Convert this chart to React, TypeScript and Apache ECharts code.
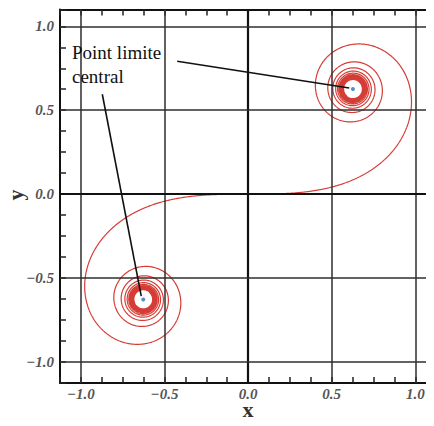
import React, { useEffect, useRef } from "react";
import * as echarts from "echarts";

// Clothoid (Cornu spiral): x(t) = ∫0^t cos(s²) ds, y(t) = ∫0^t sin(s²) ds
const T_RANGE = [-9, 9];
const T_STEP = 0.0025;

// Axis ticks shown with labels
const MAJOR_TICKS = [-1.0, -0.5, 0.0, 0.5, 1.0];
const AXIS_MIN = -1.125;
const AXIS_MAX = 1.1;

// Central limit points of the spiral
const LIMIT_POINTS = [
  [0.627, 0.627],
  [-0.627, -0.627],
];

// Annotation leader lines: [start, end]
const LEADER_LINES = [
  [[-0.424, 0.792], [0.605, 0.632]],
  [[-0.872, 0.595], [-0.639, -0.607]],
];
const ANNOTATION_TEXT = "Point limite\ncentral";
const X_NAME = "x";
const Y_NAME = "y";

function clothoid(): number[][] {
  const half: number[][] = [];
  let x = 0;
  let y = 0;
  half.push([0, 0]);
  const n = Math.round(T_RANGE[1] / T_STEP);
  for (let i = 0; i < n; i++) {
    const s = (i + 0.5) * T_STEP;
    x += Math.cos(s * s) * T_STEP;
    y += Math.sin(s * s) * T_STEP;
    half.push([x, y]);
  }
  const neg = half
    .slice(1)
    .reverse()
    .map(([a, b]) => [-a, -b]);
  return neg.concat(half);
}

const labelFmt = (v: number) =>
  Math.abs(v * 2 - Math.round(v * 2)) < 1e-6 && v >= -1.0001 && v <= 1.0001
    ? v.toFixed(1).replace("-", "\u2212")
    : "";

const SERIF = '"Liberation Serif", "DejaVu Serif", serif';

export default function App() {
  const ref = useRef<HTMLDivElement>(null);

  useEffect(() => {
    if (!ref.current) return;
    const chart = echarts.init(ref.current, undefined, { renderer: "svg" });

    const frameLine = { show: true, onZero: false, lineStyle: { color: "#111", width: 2 } };
    const tick = { show: true, inside: true, length: 6, lineStyle: { color: "#222", width: 1.5 } };
    const label = {
      formatter: labelFmt,
      fontStyle: "italic" as const,
      fontWeight: "bold" as const,
      color: "#555",
      fontFamily: SERIF,
      fontSize: 15,
    };
    const base = {
      type: "value" as const,
      min: AXIS_MIN,
      max: AXIS_MAX,
      interval: 0.125,
      splitLine: { show: false },
      axisLine: frameLine,
      axisTick: tick,
    };

    const gridLine = (axis: "xAxis" | "yAxis") =>
      MAJOR_TICKS.map((v) => ({
        [axis]: v,
        lineStyle: {
          type: "solid",
          color: v === 0 ? "#111" : "#2e2e2e",
          width: v === 0 ? 2.2 : 1.5,
        },
      }));

    const nameFont = `bold 22px ${SERIF}`;

    chart.setOption({
      animation: false,
      grid: { left: 60, right: 2, top: 9.5, bottom: 43, outerBoundsMode: "none" },
      xAxis: [
        { ...base, position: "bottom", axisLabel: { ...label, margin: 3 } },
        { ...base, position: "top", axisLabel: { show: false } },
      ],
      yAxis: [
        { ...base, position: "left", axisLabel: { ...label, margin: 6 } },
        { ...base, position: "right", axisLabel: { show: false } },
      ],
      graphic: [
        {
          type: "text",
          left: 72,
          top: 40,
          z: 10,
          style: {
            text: ANNOTATION_TEXT,
            font: `19px ${SERIF}`,
            lineHeight: 24,
            fill: "#111",
          },
        },
        {
          type: "text",
          x: 248,
          y: 409,
          z: 10,
          style: {
            text: X_NAME,
            font: nameFont,
            lineHeight: 12,
            fill: "#333",
            align: "center",
            verticalAlign: "middle",
          },
        },
        {
          type: "text",
          x: 15,
          y: 195,
          rotation: Math.PI / 2,
          z: 10,
          style: {
            text: Y_NAME,
            font: nameFont,
            lineHeight: 18,
            fill: "#333",
            align: "center",
            verticalAlign: "middle",
          },
        },
      ],
      series: [
        {
          type: "line",
          data: [],
          z: 1,
          markLine: {
            silent: true,
            symbol: ["none", "none"],
            label: { show: false },
            lineStyle: { type: "solid" },
            data: [...gridLine("xAxis"), ...gridLine("yAxis")],
          },
        },
        {
          type: "line",
          data: clothoid(),
          showSymbol: false,
          z: 3,
          lineStyle: { color: "#d63c36", width: 1.2 },
        },
        {
          type: "scatter",
          data: LIMIT_POINTS,
          symbolSize: 4,
          z: 4,
          itemStyle: { color: "#2a72b5" },
          markLine: {
            silent: true,
            symbol: ["none", "none"],
            label: { show: false },
            lineStyle: { color: "#111", width: 1.6, type: "solid" },
            data: LEADER_LINES.map(([a, b]) => [{ coord: a }, { coord: b }]),
          },
        },
      ],
    });

    return () => chart.dispose();
  }, []);

  return <div ref={ref} style={{ width: 434, height: 426, margin: -8 }} />;
}
